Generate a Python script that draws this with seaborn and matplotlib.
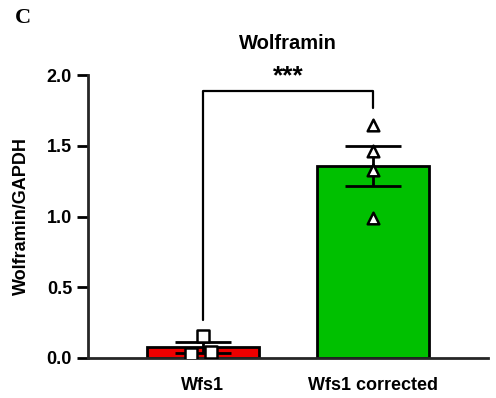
import numpy as np
import pandas as pd
import matplotlib
matplotlib.use("Agg")
import matplotlib.pyplot as plt
import seaborn as sns

# values
groups = ["Wfs1", "Wfs1 corrected"]
wfs1_vals = [0.155, 0.03, 0.045]
corrected_vals = [1.65, 1.46, 1.33, 0.99]
wfs1_offsets = [0.0, -0.07, 0.05]
corrected_offsets = [0.0, 0.0, 0.0, 0.0]
bar_colors = ["#ee0000", "#00c000"]
markers = ["s", "^"]

df = pd.DataFrame({
    "group": [groups[0]] * len(wfs1_vals) + [groups[1]] * len(corrected_vals),
    "value": wfs1_vals + corrected_vals,
})

sns.set_style("ticks")
plt.rcParams["font.family"] = ["Liberation Sans", "DejaVu Sans"]
plt.rcParams["font.weight"] = "bold"
plt.rcParams["text.color"] = "black"
plt.rcParams["axes.labelcolor"] = "black"
plt.rcParams["xtick.color"] = "black"
plt.rcParams["ytick.color"] = "black"

fig = plt.figure(figsize=(4.96, 3.98), dpi=100)
ax = fig.add_axes([88 / 496, 40 / 398, 400 / 496, 283 / 398])

sns.barplot(data=df, x="group", y="value", order=groups, palette=bar_colors,
            hue="group", legend=False, errorbar=None, width=0.66,
            saturation=1, edgecolor="black", linewidth=2, ax=ax, zorder=1)

all_vals = [wfs1_vals, corrected_vals]
all_offs = [wfs1_offsets, corrected_offsets]
for i, (vals, offs) in enumerate(zip(all_vals, all_offs)):
    v = np.array(vals)
    m = v.mean()
    sem = v.std(ddof=1) / np.sqrt(len(v))
    ax.errorbar(i, m, yerr=sem, color="black", capsize=20, capthick=2,
                elinewidth=2, zorder=3)
    sns.scatterplot(x=[i + o for o in offs], y=vals, marker=markers[i], s=70,
                    color="white", edgecolor="black", linewidth=1.8, ax=ax,
                    zorder=4)

ax.set_xlim(-0.676, 1.676)
ax.set_ylim(0, 2.0)
ax.set_yticks([0, 0.5, 1.0, 1.5, 2.0])
ax.set_yticklabels(["0.0", "0.5", "1.0", "1.5", "2.0"])
ax.set_xlabel("")
ax.set_ylabel("Wolframin/GAPDH", fontsize=13, fontweight="bold", labelpad=12)
ax.tick_params(axis="both", labelsize=13, width=2, length=8, color="black")
ax.tick_params(axis="x", length=0, pad=14)
for lab in ax.get_xticklabels() + ax.get_yticklabels():
    lab.set_fontweight("bold")
sns.despine(ax=ax)
ax.spines["left"].set_linewidth(2)
ax.spines["bottom"].set_linewidth(2)

# significance bracket
ax.plot([0, 0, 1, 1], [0.27, 1.887, 1.887, 1.77], color="black", lw=1.6,
        clip_on=False)
ax.text(0.5, 1.99, "***", ha="center", va="center", fontsize=19,
        fontweight="bold")

ax.set_title("Wolframin", fontsize=14.5, fontweight="bold", pad=19)
fig.text(15 / 496, 1 - 18 / 398, "C", family="Liberation Serif",
         fontsize=16, fontweight="bold", va="center")

fig.savefig("out.png", dpi=100)
